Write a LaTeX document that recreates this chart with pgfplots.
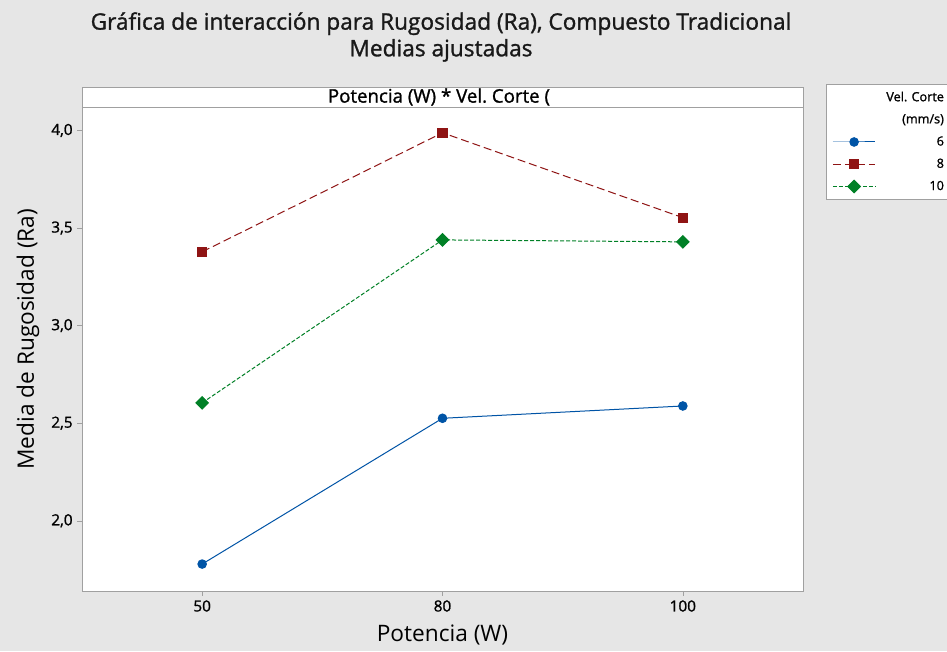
\documentclass[border=0pt]{standalone}
\usepackage{fontspec}
\setmainfont{Open Sans}
\newfontfamily\semib{Open Sans}[FakeBold=1.2]
\usepackage{pgfplots}
\pgfplotsset{compat=1.18}
\definecolor{bg}{RGB}{230,230,230}
\definecolor{mblue}{RGB}{0,84,166}
\definecolor{mred}{RGB}{143,20,20}
\definecolor{mgreen}{RGB}{0,128,38}
\definecolor{frm}{RGB}{160,160,160}
\begin{document}
\begin{tikzpicture}
\fill[bg] (0pt,0pt) rectangle (710.25pt,488.25pt);
\useasboundingbox (0pt,0pt) rectangle (710.25pt,488.25pt);
\begin{scope}[x=0.75pt,y=0.75pt]
\node[font=\fontsize{17}{20}\semib\selectfont, align=center, text=black!90] at (441,614) {Gráfica de interacción para Rugosidad (Ra), Compuesto Tradicional\\Medias ajustadas};
\draw[frm, fill=white] (82,544) rectangle (803,564);
\node[font=\fontsize{14}{14}\semib\selectfont] at (439,554) {Potencia (W) * Vel.\ Corte (};
\end{scope}
\begin{axis}[
  at={(61.5pt,45pt)}, anchor=south west, scale only axis,
  width=540.75pt, height=363pt,
  xmin=-0.5, xmax=2.5, ymin=1.64, ymax=4.12,
  axis background/.style={fill=white},
  axis line style={frm},
  xtick={0,1,2}, xticklabels={50,80,100},
  ytick={2,2.5,3,3.5,4},
  xtick pos=bottom, ytick pos=left,
  tick align=outside, major tick length=3.5pt,
  tick style={frm},
  /pgf/number format/assume math mode=true,
  yticklabel style={/pgf/number format/.cd, use comma, fixed, fixed zerofill, precision=1},
  ticklabel style={font=\fontsize{11.5}{13}\semib\selectfont},
  xlabel={Potencia (W)}, ylabel={Media de Rugosidad (Ra)},
  every axis x label/.style={at={(axis description cs:0.5,0)}, yshift=-33pt, anchor=center, font=\fontsize{17}{20}\selectfont},
  every axis y label/.style={at={(axis description cs:0,0.52)}, xshift=-40.5pt, rotate=90, anchor=center, font=\fontsize{17}{20}\selectfont},
  legend style={at={(rel axis cs:1.0319,1.0475)}, anchor=north west, draw=frm, fill=white,
    font=\fontsize{9.5}{11}\semib\selectfont, inner xsep=4.5pt, inner ysep=4.5pt,
    row sep=6.3pt,
    nodes={inner sep=1pt, text width=50pt, align=right}},
  legend image code/.code={\draw[mark repeat=2, mark phase=2, #1] plot coordinates {(0pt,0pt)(16pt,0pt)(32pt,0pt)};},
]
\addlegendimage{empty legend}\addlegendentry{Vel.\ Corte}
\addlegendimage{empty legend}\addlegendentry{(mm/s)}
\addplot[mblue, line width=0.75pt, mark=*, mark size=3.2pt, mark options={solid}] coordinates {(0,1.778) (1,2.525) (2,2.588)};
\addlegendentry{6}
\addplot[mred, line width=0.75pt, dash pattern=on 6pt off 3pt, mark=square*, mark size=3.4pt, mark options={solid}] coordinates {(0,3.378) (1,3.988) (2,3.553)};
\addlegendentry{8}
\addplot[mgreen, line width=0.75pt, dash pattern=on 3pt off 1.5pt, mark=square*, mark size=3.3pt, mark options={solid, rotate=45}] coordinates {(0,2.604) (1,3.439) (2,3.429)};
\addlegendentry{10}
\end{axis}
\end{tikzpicture}
\end{document}
